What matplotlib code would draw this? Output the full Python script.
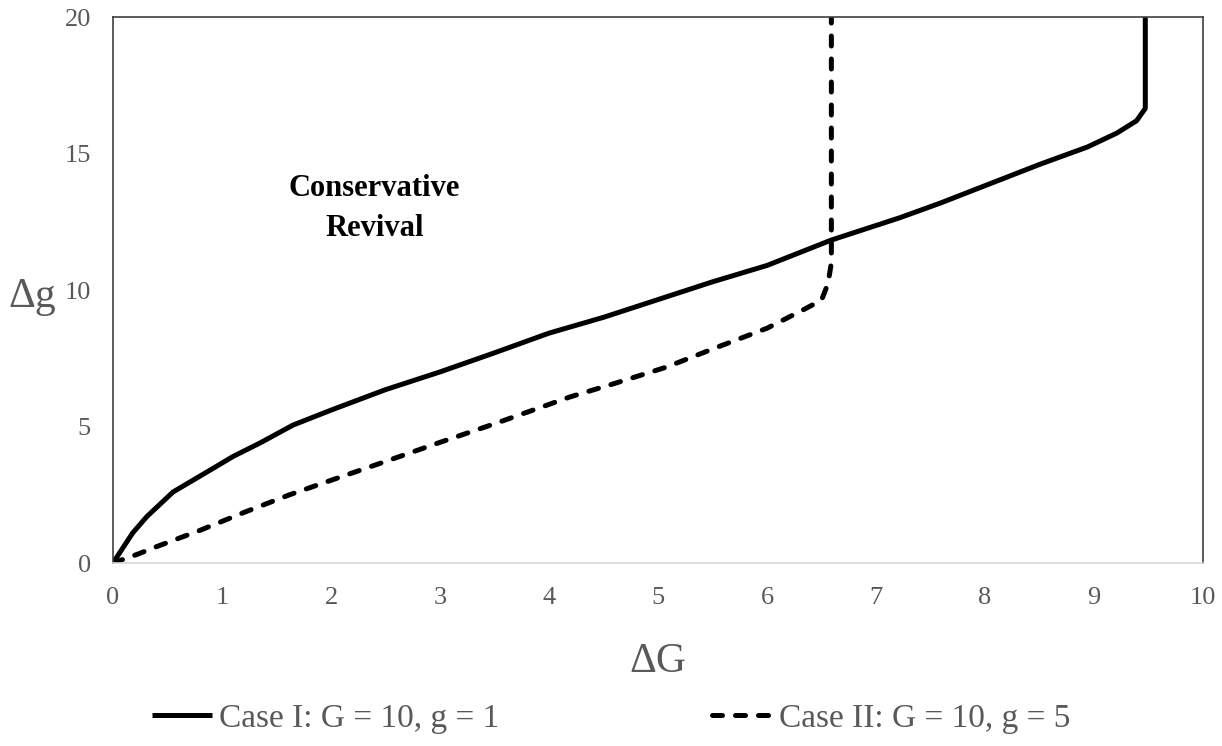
import matplotlib
matplotlib.use("Agg")
import matplotlib.pyplot as plt

# Case I: G = 10, g = 1
case1_dG = [0, 0.06, 0.18, 0.31, 0.55, 0.86, 1.1, 1.35, 1.65, 2.0, 2.5, 3.0,
            3.5, 4.0, 4.5, 5.0, 5.5, 6.0, 6.59, 7.22, 7.6, 8.05, 8.5, 8.94,
            9.21, 9.39, 9.47, 9.47]
case1_dg = [0, 0.37, 1.1, 1.7, 2.6, 3.33, 3.9, 4.4, 5.05, 5.6, 6.35, 7.0,
            7.7, 8.42, 9.0, 9.65, 10.3, 10.9, 11.83, 12.65, 13.2, 13.9, 14.6,
            15.24, 15.75, 16.2, 16.65, 20]

# Case II: G = 10, g = 5
case2_dG = [0, 0.23, 0.4, 0.8, 1.2, 1.62, 2.0, 2.5, 3.0, 3.5, 4.19, 4.62,
            5.08, 5.54, 6.0, 6.33, 6.5, 6.56, 6.59, 6.59]
case2_dg = [0, 0.33, 0.6, 1.2, 1.85, 2.5, 3.03, 3.72, 4.42, 5.1, 6.08, 6.6,
            7.18, 7.9, 8.6, 9.27, 9.63, 10.25, 11.0, 20]

labels = ["Case I: G = 10, g = 1", "Case II: G = 10, g = 5"]
x_ticks = list(range(0, 11))
y_ticks = [0, 5, 10, 15, 20]

GREY = "#595959"
plt.rcParams["font.family"] = ["Liberation Serif", "DejaVu Serif"]

fig = plt.figure(figsize=(12.22, 7.46), dpi=100)
ax = fig.add_axes([0.0925, 0.2453, 0.892, 0.7319])

ax.plot(case1_dG, case1_dg, color="black", lw=3.6, solid_capstyle="butt",
        solid_joinstyle="round", label=labels[0])
ax.plot(case2_dG, case2_dg, color="black", lw=3.6, linestyle=(0, (2.0, 2.6)),
        dash_capstyle="round", label=labels[1])

ax.set_xlim(0, 10)
ax.set_ylim(0, 20)
ax.set_xticks(x_ticks)
ax.set_yticks(y_ticks)
ax.tick_params(length=0, labelsize=19, labelcolor=GREY)
ax.tick_params(axis="x", pad=17)
ax.tick_params(axis="y", pad=16)

for side in ["left", "top", "right"]:
    ax.spines[side].set_color("#404040")
    ax.spines[side].set_linewidth(1.2)
ax.spines["bottom"].set_color("#d9d9d9")
ax.spines["bottom"].set_linewidth(1.2)

ax.set_xlabel("ΔG", fontsize=30, color=GREY)
ax.xaxis.set_label_coords(0.5, -0.145)
ax.set_ylabel("Δg", fontsize=30, color=GREY, rotation=0, va="center", ha="center")
ax.yaxis.set_label_coords(-0.0745, 0.487)

ax.text(2.4, 13.0, "Conservative\nRevival", ha="center", va="center",
        fontsize=22, fontweight="bold", linespacing=1.5)

ax.legend(loc="center", bbox_to_anchor=(0.457, -0.285), ncol=2, frameon=False,
          fontsize=24, labelcolor=GREY, handlelength=1.8, handletextpad=0.2,
          columnspacing=6.4)

plt.savefig("out.png", dpi=100)
plt.close()
